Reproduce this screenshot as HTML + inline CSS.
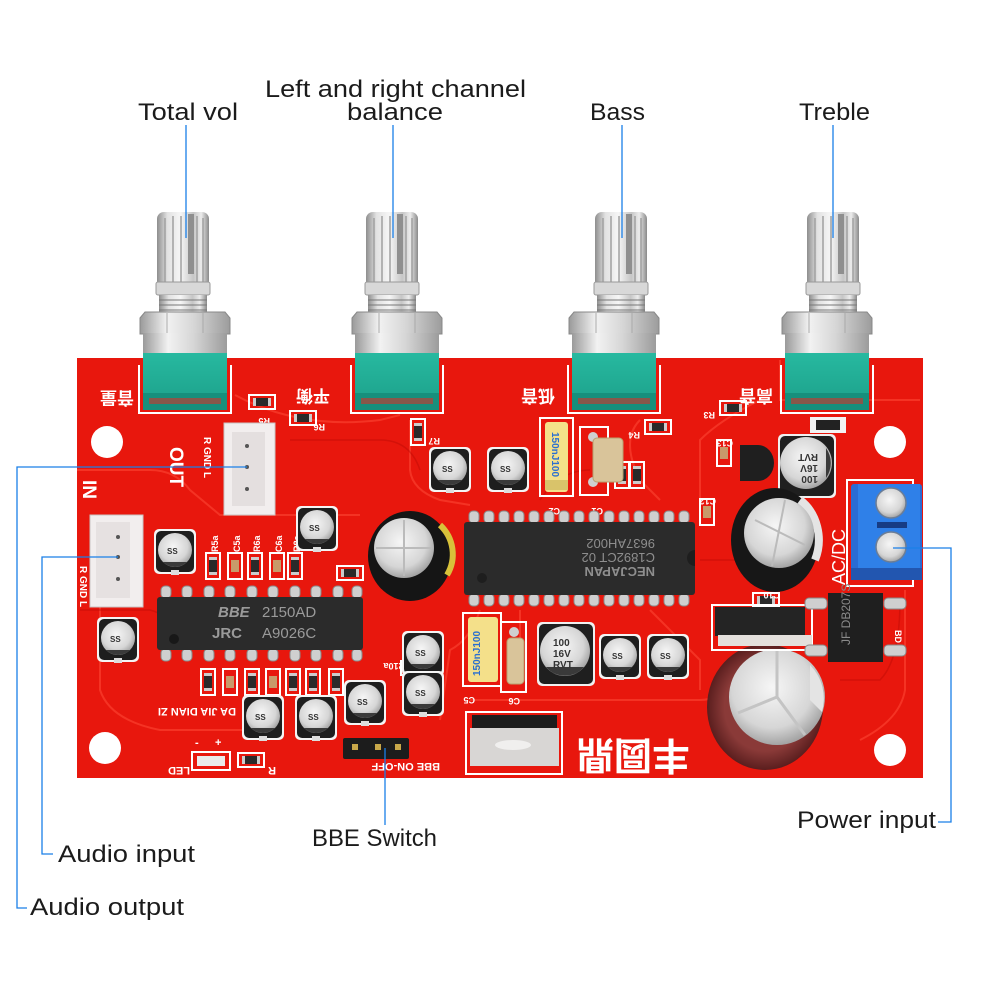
<!DOCTYPE html>
<html><head><meta charset="utf-8"><style>
html,body{margin:0;padding:0;background:#fff;}
svg{display:block}
text{font-family:"Liberation Sans","Noto Sans CJK SC",sans-serif}
</style></head><body>
<svg width="1000" height="1000" viewBox="0 0 1000 1000" xmlns="http://www.w3.org/2000/svg">
<defs>
 <linearGradient id="shaft" x1="0" x2="1" y1="0" y2="0">
  <stop offset="0" stop-color="#8e8e8e"/>
  <stop offset="0.2" stop-color="#e2e2e2"/>
  <stop offset="0.45" stop-color="#f6f6f6"/>
  <stop offset="0.7" stop-color="#c6c6c6"/>
  <stop offset="0.85" stop-color="#ececec"/>
  <stop offset="1" stop-color="#8a8a8a"/>
 </linearGradient>
 <linearGradient id="nut" x1="0" x2="1">
  <stop offset="0" stop-color="#9a9a9a"/>
  <stop offset="0.3" stop-color="#f2f2f2"/>
  <stop offset="0.6" stop-color="#d6d6d6"/>
  <stop offset="1" stop-color="#9c9c9c"/>
 </linearGradient>
 <radialGradient id="ctop" cx="0.45" cy="0.4" r="0.6">
  <stop offset="0" stop-color="#f6f6f6"/>
  <stop offset="0.7" stop-color="#d6d6d6"/>
  <stop offset="1" stop-color="#a4a4a4"/>
 </radialGradient>
 <radialGradient id="maroon" cx="0.5" cy="0.5" r="0.5">
  <stop offset="0.7" stop-color="#8a3a38"/>
  <stop offset="1" stop-color="#5a1e1e"/>
 </radialGradient>
 <linearGradient id="green" x1="0" x2="0" y1="0" y2="1">
  <stop offset="0" stop-color="#27b9a0"/>
  <stop offset="1" stop-color="#1fa68f"/>
 </linearGradient>
 <g id="sc">
  <rect x="-21" y="-21" width="42" height="45" rx="5" fill="#f4f4f4"/>
  <rect x="-19" y="-19" width="38" height="41" rx="5" fill="#1e1e1e"/>
  <circle r="17" fill="url(#ctop)"/>
  <path d="M -12 12 A 17 17 0 0 0 12 12 Z" fill="#3a3a3a"/>
  <rect x="-4" y="20" width="8" height="5" fill="#ddd"/>
 </g>
 <g id="rv">
  <rect x="-7" y="-13" width="14" height="26" fill="none" stroke="#fff" stroke-width="2"/>
  <rect x="-4" y="-6" width="8" height="12" fill="#2a2a2a"/>
  <rect x="-4" y="-9" width="8" height="3" fill="#ccc"/>
  <rect x="-4" y="6" width="8" height="3" fill="#ccc"/>
 </g>
 <g id="cv">
  <rect x="-7" y="-13" width="14" height="26" fill="none" stroke="#fff" stroke-width="2"/>
  <rect x="-4" y="-6" width="8" height="12" fill="#c89a6a"/>
 </g>
 <g id="rh">
  <rect x="-13" y="-7" width="26" height="14" fill="none" stroke="#fff" stroke-width="2"/>
  <rect x="-6" y="-4" width="12" height="8" fill="#2a2a2a"/>
  <rect x="-9" y="-4" width="3" height="8" fill="#ccc"/>
  <rect x="6" y="-4" width="3" height="8" fill="#ccc"/>
 </g>
 <g id="pin"><rect x="-5" y="-6" width="10" height="12" rx="4" fill="#cfcfcf" stroke="#8a8a8a" stroke-width="1"/></g>
 <g id="knob">
  <rect x="-26" y="212" width="52" height="76" rx="7" fill="url(#shaft)"/>
  <g stroke="#a0a0a0" stroke-width="1.5">
   <line x1="-18" y1="218" x2="-18" y2="284"/><line x1="-10" y1="216" x2="-10" y2="284"/>
   <line x1="-2" y1="216" x2="-2" y2="284"/><line x1="14" y1="216" x2="14" y2="284"/>
   <line x1="20" y1="218" x2="20" y2="284"/>
  </g>
  <rect x="5" y="214" width="6" height="60" fill="#8f8f8f"/>
  <rect x="-27" y="282" width="54" height="13" rx="2" fill="#d8d8d8" stroke="#999" stroke-width="1"/>
  <rect x="-24" y="295" width="48" height="18" fill="url(#shaft)"/>
  <g stroke="#777" stroke-width="1"><line x1="-24" y1="300" x2="24" y2="300"/><line x1="-24" y1="305" x2="24" y2="305"/><line x1="-24" y1="310" x2="24" y2="310"/></g>
 </g>
 <g id="body">
  <polygon points="-45,318 -40,312 40,312 45,318 45,334 -45,334" fill="url(#nut)" stroke="#888" stroke-width="1"/>
  <line x1="-18" y1="313" x2="-18" y2="333" stroke="#aaa"/><line x1="18" y1="313" x2="18" y2="333" stroke="#aaa"/>
  <rect x="-42" y="333" width="84" height="22" fill="url(#nut)"/>
  <rect x="-42" y="353" width="84" height="42" fill="url(#green)"/>
  <rect x="-42" y="393" width="84" height="17" fill="#178f7c"/>
  <rect x="-36" y="398" width="72" height="6" fill="#d4322a" opacity="0.6"/>
  <polyline points="-46,365 -46,413 46,413 46,365" fill="none" stroke="#fff" stroke-width="2"/>
 </g>
</defs>

<!-- PCB -->
<rect x="77" y="358" width="846" height="420" fill="#e8170d"/>
<!-- traces -->
<g fill="none" stroke="#ff4a38" stroke-width="2" opacity="0.55">
 <path d="M 235 395 Q 300 430 380 420 L 400 415"/>
 <path d="M 410 420 L 410 470 Q 412 490 440 500 L 470 505"/>
 <path d="M 77 470 L 150 470 Q 175 470 190 490 L 220 515 L 360 515"/>
 <path d="M 640 420 Q 620 440 640 480 L 660 500"/>
 <path d="M 760 400 Q 720 420 700 440 L 700 520"/>
 <path d="M 470 700 L 700 700 Q 720 700 735 680"/>
 <path d="M 100 520 L 100 690 Q 110 720 160 730 L 250 730"/>
 <path d="M 520 610 L 520 640"/>
 <path d="M 780 360 L 780 400 L 920 400"/>
 <path d="M 650 610 Q 680 640 700 660 L 700 690"/>
 <path d="M 905 590 L 905 690 Q 900 720 860 740"/>
 <path d="M 480 610 Q 470 640 450 650 L 440 720"/>
</g>
<g fill="none" stroke="#c00c06" stroke-width="1.5" opacity="0.5">
 <path d="M 290 440 L 380 440 Q 410 440 420 470"/>
 <path d="M 80 610 L 150 610 Q 170 615 190 640"/>
 <path d="M 540 500 Q 560 470 590 470"/>
 <path d="M 700 560 L 740 560"/>
 <path d="M 840 680 L 880 680 Q 900 660 900 600"/>
</g>

<!-- mounting holes -->
<circle cx="107" cy="442" r="16" fill="#fff"/>
<circle cx="890" cy="442" r="16" fill="#fff"/>
<circle cx="105" cy="748" r="16" fill="#fff"/>
<circle cx="890" cy="750" r="16" fill="#fff"/>

<!-- pots -->
<use href="#knob" x="183"/><use href="#body" x="185"/>
<use href="#knob" x="392"/><use href="#body" x="397"/>
<use href="#knob" x="621"/><use href="#body" x="614"/>
<use href="#knob" x="833"/><use href="#body" x="827"/>

<!-- silkscreen chinese labels -->
<g fill="#fff" font-weight="bold" font-size="17">
 <text transform="translate(135,386) rotate(180)" text-anchor="middle" x="18" y="-6">音量</text>
 <text transform="translate(330,384) rotate(180)" x="0" y="-6">平衡</text>
 <text transform="translate(555,384) rotate(180)" x="0" y="-6">低音</text>
 <text transform="translate(773,384) rotate(180)" x="0" y="-6">高音</text>
</g>

<!-- small smd parts top area -->
<use href="#rh" x="262" y="402"/>
<use href="#rh" x="303" y="418"/>
<use href="#rv" x="418" y="432"/>
<use href="#rh" x="658" y="427"/>
<use href="#rh" x="733" y="408"/>
<use href="#cv" x="724" y="453"/>
<use href="#cv" x="707" y="512"/>
<use href="#rh" x="766" y="600"/>
<use href="#rh" x="350" y="573"/>
<use href="#rv" x="622" y="475"/>
<use href="#rv" x="637" y="475"/>
<use href="#rh" x="414" y="668"/>
<rect x="810" y="417" width="36" height="16" fill="#f3f3f3"/>
<rect x="816" y="420" width="24" height="10" fill="#222"/>
<g fill="#fff" font-size="9" font-weight="bold">
 <text transform="translate(270,418) rotate(180)">R5</text>
 <text transform="translate(325,424) rotate(180)">R6</text>
 <text transform="translate(440,438) rotate(180)">R7</text>
 <text transform="translate(640,432) rotate(180)">R4</text>
 <text transform="translate(715,412) rotate(180)">R3</text>
 <text transform="translate(733,440) rotate(180)">C13</text>
 <text transform="translate(716,498) rotate(180)">C12</text>
 <text transform="translate(780,592) rotate(180)">C10</text>
 <text transform="translate(560,508) rotate(180)">C2</text>
 <text transform="translate(603,508) rotate(180)">C1</text>
 <text transform="translate(475,697) rotate(180)">C5</text>
 <text transform="translate(520,698) rotate(180)">C6</text>
 <text transform="translate(405,663) rotate(180)">R10a</text>
 <text transform="translate(762,455) rotate(180)">5U</text>
 <text transform="translate(895,630) rotate(90)">BD</text>
 <text transform="translate(792,628) rotate(180)">12</text>
</g>

<!-- connectors -->
<rect x="224" y="423" width="51" height="92" fill="#f2eeee" stroke="#c9c4c4"/>
<rect x="232" y="432" width="33" height="74" fill="#e4dfdf"/>
<circle cx="247" cy="446" r="2" fill="#555"/><circle cx="247" cy="467" r="2" fill="#555"/><circle cx="247" cy="489" r="2" fill="#555"/>
<rect x="90" y="515" width="53" height="92" fill="#f2eeee" stroke="#c9c4c4"/>
<rect x="96" y="522" width="34" height="76" fill="#e6e1e1"/>
<circle cx="118" cy="537" r="2" fill="#555"/><circle cx="118" cy="557" r="2" fill="#555"/><circle cx="118" cy="579" r="2" fill="#555"/>
<g fill="#fff" font-weight="bold">
 <text transform="translate(170,447) rotate(90)" font-size="19">OUT</text>
 <text transform="translate(204,437) rotate(90)" font-size="10">R  GND  L</text>
 <text transform="translate(83,480) rotate(90)" font-size="19">IN</text>
 <text transform="translate(80,566) rotate(90)" font-size="10">R  GND  L</text>
 <text transform="translate(845,585) rotate(-90)" font-size="18" font-weight="normal">AC/DC</text>
</g>

<!-- blue terminal -->
<rect x="847" y="480" width="66" height="106" fill="none" stroke="#fff" stroke-width="2"/>
<rect x="851" y="484" width="71" height="94" rx="3" fill="#2a6cd4"/>
<rect x="858" y="484" width="62" height="86" fill="#2f80e8"/>
<rect x="851" y="568" width="71" height="12" fill="#2256b0"/>
<rect x="877" y="522" width="30" height="6" fill="#173c84"/>
<circle cx="891" cy="503" r="15" fill="url(#ctop)" stroke="#6b7d96" stroke-width="1.5"/>
<circle cx="891" cy="547" r="15" fill="url(#ctop)" stroke="#6b7d96" stroke-width="1.5"/>

<!-- NEC IC -->
<g>
 <use href="#pin" x="474" y="517"/><use href="#pin" x="489" y="517"/><use href="#pin" x="504" y="517"/><use href="#pin" x="519" y="517"/><use href="#pin" x="534" y="517"/><use href="#pin" x="549" y="517"/><use href="#pin" x="564" y="517"/><use href="#pin" x="579" y="517"/><use href="#pin" x="594" y="517"/><use href="#pin" x="609" y="517"/><use href="#pin" x="624" y="517"/><use href="#pin" x="639" y="517"/><use href="#pin" x="654" y="517"/><use href="#pin" x="669" y="517"/><use href="#pin" x="684" y="517"/>
 <use href="#pin" x="474" y="600"/><use href="#pin" x="489" y="600"/><use href="#pin" x="504" y="600"/><use href="#pin" x="519" y="600"/><use href="#pin" x="534" y="600"/><use href="#pin" x="549" y="600"/><use href="#pin" x="564" y="600"/><use href="#pin" x="579" y="600"/><use href="#pin" x="594" y="600"/><use href="#pin" x="609" y="600"/><use href="#pin" x="624" y="600"/><use href="#pin" x="639" y="600"/><use href="#pin" x="654" y="600"/><use href="#pin" x="669" y="600"/><use href="#pin" x="684" y="600"/>
 <rect x="464" y="522" width="231" height="73" rx="3" fill="#2b2b2b"/>
 <circle cx="482" cy="578" r="5" fill="#1e1e1e"/>
 <path d="M 695 550 A 8 8 0 0 0 695 566" fill="#1e1e1e"/>
 <g fill="#8e8e8e" font-size="13" transform="translate(655,600) rotate(180)">
  <text x="0" y="33" font-weight="bold">NECJAPAN</text>
  <text x="0" y="47">C1892CT 02</text>
  <text x="0" y="61">9637AH002</text>
 </g>
</g>

<!-- JRC IC -->
<g>
 <use href="#pin" x="166" y="592"/><use href="#pin" x="187" y="592"/><use href="#pin" x="209" y="592"/><use href="#pin" x="230" y="592"/><use href="#pin" x="252" y="592"/><use href="#pin" x="273" y="592"/><use href="#pin" x="295" y="592"/><use href="#pin" x="316" y="592"/><use href="#pin" x="338" y="592"/><use href="#pin" x="357" y="592"/>
 <use href="#pin" x="166" y="655"/><use href="#pin" x="187" y="655"/><use href="#pin" x="209" y="655"/><use href="#pin" x="230" y="655"/><use href="#pin" x="252" y="655"/><use href="#pin" x="273" y="655"/><use href="#pin" x="295" y="655"/><use href="#pin" x="316" y="655"/><use href="#pin" x="338" y="655"/><use href="#pin" x="357" y="655"/>
 <rect x="157" y="597" width="206" height="53" rx="3" fill="#2b2b2b"/>
 <circle cx="174" cy="639" r="5" fill="#181818"/>
 <g fill="#9a9a9a" font-size="15">
  <text x="218" y="617" font-style="italic" font-weight="bold">BBE</text>
  <text x="262" y="617">2150AD</text>
  <text x="212" y="638" font-weight="bold">JRC</text>
  <text x="262" y="638">A9026C</text>
 </g>
</g>

<!-- smd rows -->
<use href="#rv" x="213" y="566"/><use href="#cv" x="235" y="566"/><use href="#rv" x="255" y="566"/><use href="#cv" x="277" y="566"/><use href="#rv" x="295" y="566"/>
<g fill="#fff" font-size="9" font-weight="bold">
 <text transform="translate(218,552) rotate(-90)">R5a</text>
 <text transform="translate(240,552) rotate(-90)">C5a</text>
 <text transform="translate(260,552) rotate(-90)">R6a</text>
 <text transform="translate(282,552) rotate(-90)">C6a</text>
 <text transform="translate(300,552) rotate(-90)">R8a</text>
</g>
<use href="#rv" x="208" y="682"/><use href="#cv" x="230" y="682"/><use href="#rv" x="252" y="682"/><use href="#cv" x="273" y="682"/><use href="#rv" x="293" y="682"/><use href="#rv" x="313" y="682"/><use href="#rv" x="336" y="682"/>
<text transform="translate(236,708) rotate(180)" fill="#fff" font-size="11" font-weight="bold">DA JIA DIAN ZI</text>

<!-- small electrolytic caps -->
<use href="#sc" x="450" y="468"/>
<use href="#sc" x="508" y="468"/>
<use href="#sc" x="175" y="550"/>
<use href="#sc" x="118" y="638"/>
<use href="#sc" x="317" y="527"/>
<use href="#sc" x="423" y="652"/>
<use href="#sc" x="423" y="692"/>
<use href="#sc" x="365" y="701"/>
<use href="#sc" x="263" y="716"/>
<use href="#sc" x="316" y="716"/>
<use href="#sc" x="620" y="655"/>
<use href="#sc" x="668" y="655"/>
<g fill="#333" font-size="8" font-weight="bold">
 <text x="442" y="472">SS</text><text x="500" y="472">SS</text><text x="167" y="554">SS</text><text x="110" y="642">SS</text><text x="309" y="531">SS</text><text x="415" y="656">SS</text><text x="415" y="696">SS</text><text x="357" y="705">SS</text><text x="255" y="720">SS</text><text x="308" y="720">SS</text><text x="612" y="659">SS</text><text x="660" y="659">SS</text>
</g>

<!-- larger 100uF caps -->
<rect x="537" y="622" width="58" height="64" rx="5" fill="#f0f0f0"/>
<rect x="539" y="624" width="54" height="60" rx="5" fill="#1f1f1f"/>
<circle cx="565" cy="651" r="25" fill="url(#ctop)"/>
<path d="M 546 667 A 25 25 0 0 0 584 667 Z" fill="#3a3a3a"/>
<g fill="#333" font-size="10" font-weight="bold"><text x="553" y="646">100</text><text x="553" y="657">16V</text><text x="553" y="668">RVT</text></g>

<rect x="778" y="434" width="58" height="64" rx="5" fill="#f0f0f0"/>
<rect x="780" y="436" width="54" height="60" rx="5" fill="#1f1f1f"/>
<circle cx="806" cy="463" r="26" fill="url(#ctop)"/>
<path d="M 826 448 A 26 26 0 0 1 826 478 Z" fill="#3a3a3a"/>
<g fill="#333" font-size="10" font-weight="bold" transform="translate(818,476) rotate(180)"><text x="0" y="0">100</text><text x="0" y="11">16V</text><text x="0" y="22">RVT</text></g>

<!-- big black cap middle -->
<ellipse cx="410" cy="556" rx="42" ry="45" fill="#151515"/>
<path d="M 440 525 A 40 40 0 0 1 447 575" stroke="#d8c23a" stroke-width="6" fill="none"/>
<circle cx="404" cy="548" r="30" fill="url(#ctop)"/>
<line x1="404" y1="520" x2="404" y2="576" stroke="#bbb" stroke-width="2"/>
<line x1="376" y1="548" x2="432" y2="548" stroke="#bbb" stroke-width="2"/>

<!-- big black cap right -->
<ellipse cx="775" cy="540" rx="44" ry="52" fill="#171717"/>
<path d="M 800 500 A 42 48 0 0 1 815 560" stroke="#e4e4e4" stroke-width="8" fill="none"/>
<circle cx="779" cy="533" r="35" fill="url(#ctop)"/>
<line x1="755" y1="520" x2="805" y2="545" stroke="#bbb" stroke-width="2"/>
<line x1="785" y1="500" x2="772" y2="566" stroke="#bbb" stroke-width="2"/>

<!-- big maroon cap -->
<ellipse cx="765" cy="707" rx="58" ry="63" fill="url(#maroon)"/>
<circle cx="777" cy="697" r="48" fill="url(#ctop)"/>
<path d="M 810 665 A 48 48 0 0 1 822 712 L 810 700 Z" fill="#e4e4e4"/>
<g stroke="#c4c4c4" stroke-width="3"><line x1="777" y1="697" x2="777" y2="650"/><line x1="777" y1="697" x2="738" y2="713"/><line x1="777" y1="697" x2="805" y2="735"/></g>

<!-- film caps -->
<rect x="540" y="418" width="33" height="78" fill="none" stroke="#fff" stroke-width="2"/>
<rect x="545" y="422" width="23" height="70" rx="3" fill="#f4e08a"/>
<rect x="545" y="480" width="23" height="10" fill="#d9c36a"/>
<text transform="translate(552,432) rotate(90)" fill="#2a6fd0" font-size="10" font-weight="bold">150nJ100</text>
<rect x="580" y="427" width="28" height="68" fill="none" stroke="#fff" stroke-width="2"/>
<circle cx="593" cy="437" r="5" fill="#cfcfcf"/><circle cx="593" cy="482" r="5" fill="#cfcfcf"/>
<rect x="593" y="438" width="30" height="44" rx="4" fill="#d9c49a" stroke="#b8a070"/>
<rect x="463" y="613" width="38" height="73" fill="none" stroke="#fff" stroke-width="2"/>
<rect x="468" y="617" width="30" height="65" rx="3" fill="#f4e08a"/>
<text transform="translate(480,676) rotate(-90)" fill="#2a6fd0" font-size="10" font-weight="bold">150nJ100</text>
<rect x="501" y="622" width="25" height="70" fill="none" stroke="#fff" stroke-width="2"/>
<circle cx="514" cy="632" r="5" fill="#cfcfcf"/>
<rect x="507" y="638" width="17" height="46" rx="4" fill="#d9c49a" stroke="#b8a070"/>

<!-- transistor 5U -->
<path d="M 740 445 L 758 445 A 16 18 0 0 1 758 481 L 740 481 Z" fill="#1f1f1f"/>

<!-- regulator -->
<rect x="712" y="605" width="100" height="45" fill="none" stroke="#fff" stroke-width="2"/>
<rect x="715" y="607" width="90" height="29" fill="#242424"/>
<rect x="718" y="635" width="94" height="11" fill="#e4e0dc"/>

<!-- bridge rectifier -->
<rect x="805" y="598" width="22" height="11" rx="4" fill="#cfcfcf" stroke="#888"/>
<rect x="805" y="645" width="22" height="11" rx="4" fill="#cfcfcf" stroke="#888"/>
<rect x="884" y="598" width="22" height="11" rx="4" fill="#cfcfcf" stroke="#888"/>
<rect x="884" y="645" width="22" height="11" rx="4" fill="#cfcfcf" stroke="#888"/>
<rect x="828" y="593" width="55" height="69" fill="#1f1f1f"/>
<text transform="translate(850,645) rotate(-90)" fill="#8a8a8a" font-size="12">JF DB207S</text>

<!-- TO-220 bottom -->
<rect x="466" y="712" width="96" height="62" fill="none" stroke="#fff" stroke-width="2"/>
<rect x="472" y="715" width="85" height="14" fill="#1d1d1d"/>
<rect x="470" y="728" width="89" height="38" fill="#d8d6d4"/>
<ellipse cx="513" cy="745" rx="18" ry="5" fill="#f0efee"/>

<!-- chinese brand -->
<text transform="translate(690,742) rotate(180)" fill="#fff" font-size="38" font-weight="bold">丰圆鼎</text>

<!-- jumper, LED -->
<rect x="343" y="738" width="66" height="21" rx="2" fill="#1c1c1c"/>
<rect x="352" y="744" width="6" height="6" fill="#c8a84a"/><rect x="375" y="744" width="6" height="6" fill="#c8a84a"/><rect x="395" y="744" width="6" height="6" fill="#c8a84a"/>
<g fill="#fff" font-size="11" font-weight="bold">
 <text transform="translate(440,763) rotate(180)">BBE  ON-OFF</text>
 <text transform="translate(190,767) rotate(180)">LED</text>
 <text transform="translate(276,767) rotate(180)">R</text>
 <text x="195" y="746">-</text><text x="215" y="746">+</text>
</g>
<rect x="192" y="752" width="38" height="18" fill="none" stroke="#fff" stroke-width="2"/>
<rect x="197" y="756" width="28" height="10" fill="#eaeaea"/>
<use href="#rh" x="251" y="760"/>

<!-- leader lines -->
<g stroke="#1a7fe8" stroke-width="1.3" fill="none">
 <line x1="186" y1="125" x2="186" y2="238"/>
 <line x1="393" y1="125" x2="393" y2="238"/>
 <line x1="622" y1="125" x2="622" y2="238"/>
 <line x1="833" y1="125" x2="833" y2="238"/>
 <polyline points="247,467 17,467 17,908 27,908"/>
 <polyline points="118,557 42,557 42,854 53,854"/>
 <line x1="385" y1="748" x2="385" y2="825"/>
 <polyline points="893,548 951,548 951,822 938,822"/>
</g>

<!-- labels -->
<g fill="#1b1b1b" font-size="24">
 <text x="138" y="120" textLength="100" lengthAdjust="spacingAndGlyphs">Total vol</text>
 <text x="265" y="97" textLength="261" lengthAdjust="spacingAndGlyphs">Left and right channel</text>
 <text x="347" y="120" textLength="96" lengthAdjust="spacingAndGlyphs">balance</text>
 <text x="590" y="120" textLength="55" lengthAdjust="spacingAndGlyphs">Bass</text>
 <text x="799" y="120" textLength="71" lengthAdjust="spacingAndGlyphs">Treble</text>
 <text x="312" y="846" textLength="125" lengthAdjust="spacingAndGlyphs">BBE Switch</text>
 <text x="58" y="862" textLength="137" lengthAdjust="spacingAndGlyphs">Audio input</text>
 <text x="30" y="915" textLength="154" lengthAdjust="spacingAndGlyphs">Audio output</text>
 <text x="797" y="828" textLength="139" lengthAdjust="spacingAndGlyphs">Power input</text>
</g>
</svg>
</body></html>
